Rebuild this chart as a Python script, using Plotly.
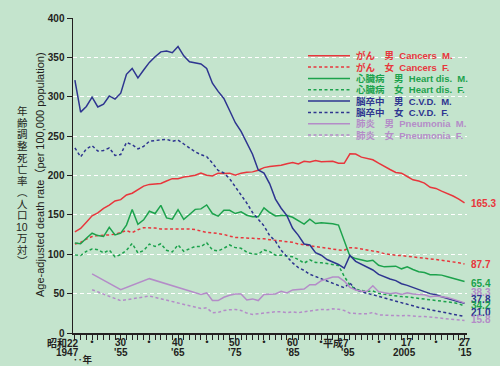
import plotly.graph_objects as go

# ---------------- data ----------------
years = list(range(1947, 2016))

cancer_m = [128.5, 132.7, 140.6, 148.8, 152.5, 158.3, 162.5, 167.7, 169.3, 175.3,
            177.5, 182.5, 186.5, 188.7, 189.6, 189.8, 193.0, 196.0, 196.0, 198.0,
            199.0, 200.4, 203.0, 200.4, 199.5, 203.0, 202.5, 203.0, 200.4, 203.0,
            204.0, 204.6, 206.7, 210.0, 211.5, 212.0, 213.0, 215.0, 216.4, 214.7,
            218.0, 217.2, 219.0, 217.4, 218.0, 218.0, 215.5, 215.5, 227.5, 227.2,
            223.3, 222.0, 220.0, 215.7, 211.2, 207.6, 203.8, 203.0, 198.7, 194.5,
            192.9, 190.3, 185.0, 183.6, 180.2, 177.3, 174.0, 170.0, 165.3]

cancer_f = [112.9, 115.0, 119.2, 122.5, 123.7, 123.7, 124.6, 125.4, 128.0, 130.0,
            127.5, 131.2, 133.7, 133.7, 133.3, 132.0, 132.0, 131.7, 132.5, 132.0,
            132.0, 131.3, 129.4, 127.7, 127.3, 126.5, 125.2, 123.0, 121.4, 121.0,
            121.0, 120.2, 119.8, 119.8, 118.5, 117.7, 116.8, 116.0, 115.1, 113.0,
            111.8, 111.0, 109.7, 108.5, 107.6, 106.7, 105.5, 105.0, 108.4, 108.0,
            106.7, 105.9, 104.2, 102.9, 100.8, 99.6, 98.7, 98.3, 97.0, 96.6,
            95.8, 94.5, 94.1, 93.3, 92.4, 91.6, 90.3, 89.2, 87.7]

heart_m = [114.2, 113.3, 120.4, 126.7, 123.7, 122.5, 134.2, 124.6, 126.7, 137.0,
           156.7, 138.0, 143.7, 154.6, 151.7, 162.0, 146.2, 144.6, 156.7, 144.2,
           150.4, 157.0, 157.6, 162.6, 151.7, 148.3, 155.9, 155.9, 151.7, 153.8,
           149.6, 147.5, 147.5, 158.8, 153.0, 148.7, 149.2, 149.2, 147.0, 142.9,
           138.2, 144.5, 139.0, 140.0, 139.5, 138.7, 137.0, 118.0, 97.5, 94.5,
           92.4, 91.2, 92.4, 86.1, 84.0, 84.0, 84.9, 81.5, 84.0, 80.7,
           77.7, 76.9, 74.0, 74.0, 73.5, 71.4, 69.3, 68.0, 65.4]

heart_f = [99.2, 98.3, 103.7, 106.7, 105.8, 101.7, 105.4, 96.7, 99.6, 105.0,
           113.7, 101.7, 104.6, 112.9, 110.0, 113.3, 105.0, 103.0, 112.0, 103.7,
           107.0, 110.0, 109.7, 114.7, 105.5, 104.2, 107.6, 111.8, 108.4, 107.6,
           102.5, 100.4, 100.0, 105.5, 103.4, 98.8, 98.8, 98.0, 96.7, 93.3,
           88.7, 92.9, 89.5, 89.3, 88.2, 87.0, 85.7, 72.0, 60.9, 55.5,
           53.8, 53.0, 53.3, 50.4, 49.1, 47.9, 47.5, 46.2, 45.8, 45.0,
           43.7, 42.8, 42.0, 41.2, 40.3, 39.5, 38.6, 37.2, 34.2]

cvd_m = [321.0, 280.5, 287.7, 299.5, 287.0, 290.6, 301.0, 297.0, 304.5, 328.5,
         336.0, 324.0, 334.0, 343.6, 350.8, 357.0, 358.0, 356.0, 363.8, 352.0,
         344.5, 343.0, 341.6, 336.0, 317.2, 306.8, 297.8, 282.6, 267.0, 256.0,
         240.5, 227.0, 207.0, 203.0, 189.5, 170.0, 158.4, 149.0, 133.0, 124.0,
         113.0, 111.7, 102.0, 98.7, 93.3, 90.3, 87.0, 82.3, 98.5, 91.0,
         87.4, 83.5, 80.0, 74.5, 71.4, 68.5, 66.5, 62.5, 60.5, 57.5,
         55.0, 52.5, 50.0, 48.5, 46.0, 43.7, 41.6, 39.5, 37.8]

cvd_f = [235.0, 223.7, 233.8, 238.0, 231.0, 231.8, 235.0, 225.5, 226.7, 242.0,
         239.0, 233.8, 237.0, 243.5, 244.4, 245.6, 246.0, 243.5, 245.0, 240.0,
         235.0, 230.0, 226.5, 224.0, 215.7, 206.5, 203.2, 196.0, 185.6, 176.0,
         165.0, 153.0, 144.0, 136.0, 123.7, 116.6, 105.0, 97.0, 89.0, 83.0,
         79.5, 74.5, 71.5, 68.5, 66.0, 63.0, 60.5, 57.5, 63.5, 55.0,
         52.5, 50.5, 48.5, 46.5, 44.0, 42.0, 40.0, 38.0, 36.0, 34.0,
         32.5, 31.0, 29.5, 28.5, 27.0, 25.5, 24.0, 22.5, 21.0]

pneu_years = [1950, 1955, 1960, 1965] + list(range(1968, 2016))
pneu_m = [75.0, 55.0, 69.0, 58.0,
          50.9, 48.8, 50.9, 41.2, 41.2, 45.4, 48.0, 49.6, 49.6, 42.0,
          43.3, 41.2, 48.8, 48.8, 49.6, 53.0, 50.9, 54.7, 55.1, 55.9,
          61.4, 61.4, 66.4, 68.5, 71.0, 71.0, 66.0, 58.0, 54.5, 53.0,
          53.0, 60.0, 52.5, 51.0, 50.0, 51.0, 49.0, 51.0, 49.5, 49.0,
          48.5, 46.0, 47.0, 46.0, 45.0, 43.0, 41.0, 38.3]
pneu_f = [55.0, 41.0, 47.0, 38.0,
          32.5, 31.1, 32.0, 25.7, 26.1, 28.6, 29.5, 29.9, 28.6, 25.3,
          23.6, 24.4, 25.7, 25.7, 27.0, 27.0, 25.7, 27.0, 25.7, 27.0,
          27.8, 28.6, 30.0, 29.4, 30.7, 30.2, 28.6, 25.2, 24.4, 24.4,
          24.4, 26.0, 23.1, 22.3, 22.3, 22.3, 21.8, 22.3, 21.4, 21.0,
          21.0, 20.2, 20.2, 19.3, 18.5, 17.6, 16.8, 15.8]

legend_labels = ["がん　男  Cancers  M.", "がん　女  Cancers  F.",
                 "心臓病　男  Heart dis.  M.", "心臓病　女  Heart dis.  F.",
                 "脳卒中　男  C.V.D.  M.", "脳卒中　女  C.V.D.  F.",
                 "肺炎　男  Pneumonia  M.", "肺炎　女  Pneumonia  F."]

# x labels: (year, first line, second line)
x_label_years = [1947, 1950, 1955, 1960, 1965, 1970, 1975, 1980, 1985, 1990,
                 1995, 2000, 2005, 2010, 2015]
x_label_top = ["昭和22", "・", "30", "・", "40", "・", "50", "・", "60", "・",
               "平成7", "・", "17", "・", "27"]
x_label_bottom = ["1947", "", "'55", "", "'65", "", "'75", "", "'85", "",
                  "'95", "", "2005", "", "'15"]
y_tickvals = [0, 50, 100, 150, 200, 250, 300, 350, 400]

# ---------------- styling ----------------
BG = "#c4e4cd"
RED = "#e8363c"
GREEN = "#1ca24c"
NAVY = "#2e3590"
PURPLE = "#b48cc8"
INK = "#231f20"
FONT = "Liberation Sans, Arial, Noto Sans CJK JP, sans-serif"
DOT = "3px,2.5px"

W, H = 500, 366
ML, MR, MT, MB = 73, 33, 16, 33
PW, PH = W - ML - MR, H - MT - MB


def px(xp):
    return (xp - ML) / PW


def py(yp):
    return (H - MB - yp) / PH


series = [
    (years, cancer_m, RED, "solid"),
    (years, cancer_f, RED, DOT),
    (years, heart_m, GREEN, "solid"),
    (years, heart_f, GREEN, DOT),
    (years, cvd_m, NAVY, "solid"),
    (years, cvd_f, NAVY, DOT),
    (pneu_years, pneu_m, PURPLE, "solid"),
    (pneu_years, pneu_f, PURPLE, DOT),
]

fig = go.Figure()
for (xs, ys, col, dash), name in zip(series, legend_labels):
    fig.add_trace(go.Scatter(x=xs, y=ys, mode="lines", name=name, showlegend=False,
                             hoverinfo="skip",
                             line=dict(color=col, width=1.5, dash=dash)))

annotations = []
shapes = []

# manual legend
for i, ((xs, ys, col, dash), name) in enumerate(zip(series, legend_labels)):
    yy = 54 + i * 11.4
    shapes.append(dict(type="line", xref="paper", yref="paper",
                       x0=px(308), x1=px(350), y0=py(yy), y1=py(yy),
                       line=dict(color=col, width=1.5, dash=dash)))
    annotations.append(dict(xref="paper", yref="paper", x=px(354), y=py(yy),
                            xanchor="left", yanchor="middle", showarrow=False,
                            text=name, font=dict(family=FONT, size=9.5, color=col, weight="bold")))

# end value labels
end_label_y = [164.4, 86.7, 62.7, 50.9, 42.9, 34.9, 25.6, 17.3]
end_order = [0, 1, 2, 6, 4, 3, 5, 7]
for yl, idx in zip(end_label_y, end_order):
    xs, ys, col, dash = series[idx]
    annotations.append(dict(x=xs[-1], y=yl, xref="x", yref="y", xanchor="left",
                            yanchor="middle", xshift=4, showarrow=False,
                            text=f"{ys[-1]:.1f}",
                            font=dict(family=FONT, size=10, color=col, weight="bold")))

# x labels
for yr, top, bot in zip(x_label_years, x_label_top, x_label_bottom):
    if yr in (1947, 1995):
        anchor, shift_top, shift_bot = "right", (6 if yr == 1947 else 1), (6 if yr == 1947 else -2)
        anchor_bot = "right" if yr == 1947 else "center"
    else:
        anchor, shift_top, shift_bot, anchor_bot = "center", 0, (-3 if yr == 2005 else 0), "center"
    annotations.append(dict(x=yr, xref="x", yref="paper", y=py(343), xanchor=anchor,
                            xshift=shift_top, yanchor="middle", showarrow=False, text=top,
                            font=dict(family=FONT, size=10, color=INK, weight="bold")))
    if bot:
        annotations.append(dict(x=yr, xref="x", yref="paper", y=py(353), xanchor=anchor_bot,
                                xshift=shift_bot, yanchor="middle", showarrow=False, text=bot,
                                font=dict(family=FONT, size=10, color=INK, weight="bold")))
annotations.append(dict(xref="paper", yref="paper", x=px(71), y=py(360),
                        xanchor="left", yanchor="middle", showarrow=False,
                        text="‥年", font=dict(family=FONT, size=9.5, color=INK, weight="bold")))

# y titles
annotations.append(dict(xref="paper", yref="paper", x=px(40), y=py(174),
                        xanchor="center", yanchor="middle", textangle=-90, showarrow=False,
                        text="Age-adjusted death rate（per 100,000 population)",
                        font=dict(family=FONT, size=11, color=INK)))
jp_chars = ["年", "齢", "調", "整", "死", "亡", "率", "︵", "人", "口", "10", "万", "対", "︶"]
for k, ch in enumerate(jp_chars):
    annotations.append(dict(xref="paper", yref="paper", x=px(22), y=py(110 + k * 11.6),
                            xanchor="center", yanchor="middle", showarrow=False,
                            text=ch, font=dict(family=FONT, size=10.5, color=INK)))

fig.update_layout(
    width=W, height=H,
    margin=dict(l=ML, r=MR, t=MT, b=MB, pad=0),
    paper_bgcolor=BG, plot_bgcolor=BG,
    font=dict(family=FONT, size=10, color=INK),
    annotations=annotations, shapes=shapes,
    hovermode=False,
    xaxis=dict(range=[1946.67, 2015.43], showgrid=False, zeroline=False,
               showline=True, linecolor=INK, linewidth=1.5,
               ticks="outside", ticklen=5, tickwidth=1, tickcolor=INK,
               tick0=1947, dtick=1, showticklabels=False),
    yaxis=dict(range=[0, 400], tickvals=y_tickvals, zeroline=False,
               showgrid=True, gridcolor="white", gridwidth=1, griddash="4px,3px",
               showline=True, linecolor=INK, linewidth=1.5,
               ticks="outside", ticklen=5, tickwidth=1, tickcolor=INK,
               tickfont=dict(family=FONT, size=10, color=INK, weight="bold")),
)

fig.write_html("out.html", config={"displayModeBar": False, "staticPlot": True},
               post_script="document.body.style.margin='0';document.body.style.overflow='hidden';")
